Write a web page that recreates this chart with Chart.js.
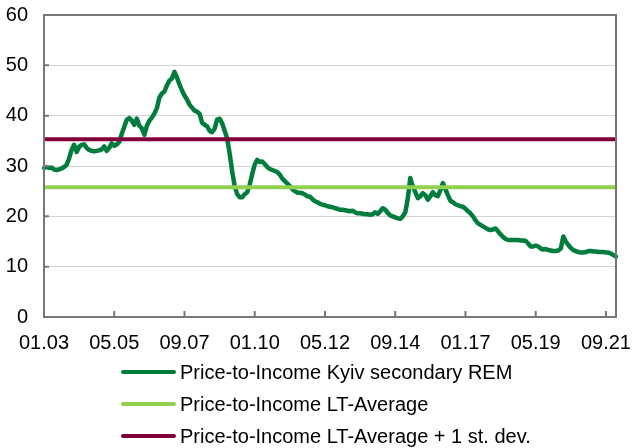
<!DOCTYPE html>
<html>
<head>
<meta charset="utf-8">
<script src="https://cdn.jsdelivr.net/npm/chart.js@4.4.1/dist/chart.umd.min.js"></script>
<style>
  html, body { margin: 0; padding: 0; background: #fff; }
  #wrap { position: relative; width: 632px; height: 448px; }
  #legenda { position: absolute; left: 121px; top: 356px; font: 20px "Liberation Sans", Arial, sans-serif; color: #000; }
  .item { height: 32px; display: flex; align-items: center; }
  .amostra { width: 55px; height: 4px; border-radius: 2px; margin-right: 4px; }
</style>
</head>
<body>
<div id="wrap">
  <canvas id="grafico" width="632" height="448"></canvas>
  <div id="legenda"></div>
</div>
<script>
// mensal, 01.03 ate 01.22
const anoInicio = 2003
const totalMeses = 229
const rotulosEixo = ["01.03", "05.05", "09.07", "01.10", "05.12", "09.14", "01.17", "05.19", "09.21"]

const priceToIncome = [
  29.6, 29.8, 29.6, 29.7, 29.3, 29.2, 29.3, 29.5, 29.8, 30.2, 31.5, 33.2,
  34.2, 32.8, 33.8, 34.2, 34.3, 33.6, 33.2, 33.0, 32.9, 33.0, 33.1, 33.3,
  33.9, 33.0, 33.6, 34.5, 34.0, 34.3, 34.8, 36.4, 37.8, 39.2, 39.5, 39.0,
  38.2, 39.4, 38.0, 37.5, 36.2, 38.0, 39.0, 39.6, 40.4, 41.5, 43.6, 44.4,
  44.8, 46.0, 47.0, 47.4, 48.7, 47.6, 46.2, 45.0, 44.0, 43.2, 42.2, 41.6,
  41.0, 40.8, 40.4, 38.6, 38.2, 37.9, 37.0, 36.7, 37.4, 39.2, 39.4, 38.5,
  37.0, 35.5, 32.5, 29.0, 26.0, 24.4, 23.8, 23.8, 24.4, 24.8, 26.3, 28.4,
  30.3, 31.2, 30.8, 30.9, 30.4, 29.8, 29.4, 29.2, 29.0, 28.8, 28.3, 27.5,
  27.0, 26.5, 26.0, 25.4, 25.0, 24.7, 24.7, 24.6, 24.3, 24.0, 23.9, 23.4,
  23.0, 22.8, 22.5, 22.3, 22.2, 22.0, 21.9, 21.8, 21.6, 21.5, 21.3, 21.3,
  21.2, 21.1, 21.0, 21.1, 20.8, 20.6, 20.6, 20.5, 20.4, 20.4, 20.3, 20.4,
  20.8, 20.5, 21.0, 21.6, 21.3, 20.7, 20.2, 20.0, 19.8, 19.6, 19.5, 20.0,
  20.8, 23.5, 27.6, 26.0, 24.8, 23.6, 24.0, 24.6, 24.2, 23.3, 24.0, 24.8,
  24.2, 24.0, 25.2, 26.6, 25.4, 24.2, 23.1, 22.8, 22.4, 22.2, 22.0, 21.9,
  21.5, 21.0, 20.6, 20.0, 19.2, 18.6, 18.3, 18.0, 17.7, 17.4, 17.3, 17.4,
  17.6, 17.0, 16.4, 15.9, 15.5, 15.3, 15.3, 15.3, 15.3, 15.3, 15.2, 15.2,
  15.1, 14.6, 14.0, 14.0, 14.2, 14.0, 13.6, 13.4, 13.5, 13.3, 13.2, 13.1,
  13.1, 13.2, 13.6, 16.0, 15.0, 14.3, 13.7, 13.3, 13.1, 12.9, 12.8, 12.8,
  12.9, 13.1, 13.1, 13.0, 13.0, 12.9, 12.9, 12.9, 12.8, 12.8, 12.6, 12.3,
  12.0
]
const mediaLT = 25.8
const mediaMaisDesvio = 35.3

// monta os rotulos mes.ano
const meses = []
for (let i = 0; i < totalMeses; i++) {
  const m = (i % 12) + 1
  const a = (anoInicio + Math.floor(i / 12)) % 100
  meses.push(String(m).padStart(2, "0") + "." + String(a).padStart(2, "0"))
}
const primeiro = meses[0]
const ultimo = meses[meses.length - 1]

const fonte = { family: "'Liberation Sans', Arial, sans-serif", size: 20 }

// moldura e tracinhos para dentro
const moldura = {
  id: "moldura",
  afterDatasetsDraw(chart) {
    const { ctx, chartArea: ca, scales } = chart
    ctx.save()
    ctx.strokeStyle = "#777"
    ctx.lineWidth = 2
    ctx.beginPath()
    for (const r of rotulosEixo) {
      const x = scales.x.getPixelForValue(meses.indexOf(r))
      ctx.moveTo(x, ca.bottom); ctx.lineTo(x, ca.bottom - 6)
    }
    for (const t of scales.y.ticks) {
      const y = scales.y.getPixelForValue(t.value)
      ctx.moveTo(ca.left, y); ctx.lineTo(ca.left + 5, y)
    }
    ctx.stroke()
    ctx.strokeRect(ca.left, ca.top, ca.right - ca.left, ca.bottom - ca.top)
    ctx.restore()
  }
}

const grafico = new Chart(document.getElementById("grafico"), {
  type: "line",
  data: {
    labels: meses,
    datasets: [
      {
        label: "Price-to-Income Kyiv secondary REM",
        data: priceToIncome,
        borderColor: "#007D3C",
        borderWidth: 4.5,
        pointRadius: 0,
        tension: 0,
        borderJoinStyle: "round",
        borderCapStyle: "round",
        order: 3
      },
      {
        label: "Price-to-Income LT-Average",
        data: [{ x: primeiro, y: mediaLT }, { x: ultimo, y: mediaLT }],
        borderColor: "#92D050",
        borderWidth: 4,
        pointRadius: 0,
        order: 2
      },
      {
        label: "Price-to-Income LT-Average + 1 st. dev.",
        data: [{ x: primeiro, y: mediaMaisDesvio }, { x: ultimo, y: mediaMaisDesvio }],
        borderColor: "#82003A",
        borderWidth: 4,
        pointRadius: 0,
        order: 1
      }
    ]
  },
  options: {
    responsive: false,
    animation: false,
    layout: { padding: { top: 15, right: 16, bottom: 79, left: 0 } },
    scales: {
      x: {
        type: "category",
        offset: false,
        afterFit: (s) => { s.paddingLeft = 0; s.paddingRight = 0 },
        grid: { display: false, drawTicks: false },
        border: { display: false },
        ticks: {
          autoSkip: false,
          maxRotation: 0,
          padding: 14,
          color: "#000",
          font: fonte,
          callback: function (v, i) {
            const r = meses[i]
            return rotulosEixo.includes(r) ? r : null
          }
        }
      },
      y: {
        min: 0,
        max: 60,
        afterFit: (s) => { s.width = 44; s.paddingTop = 0; s.paddingBottom = 0 },
        grid: { color: "#d4d4d4", lineWidth: 1, drawTicks: false },
        border: { display: false },
        ticks: { stepSize: 10, padding: 16, color: "#000", font: fonte }
      }
    },
    plugins: {
      legend: { display: false },
      tooltip: { enabled: false }
    }
  },
  plugins: [moldura]
})

// legenda em html, um item por linha
const legenda = document.getElementById("legenda")
for (const ds of grafico.data.datasets) {
  const item = document.createElement("div")
  item.className = "item"
  item.innerHTML = '<div class="amostra" style="background:' + ds.borderColor + '"></div><span>' + ds.label + "</span>"
  legenda.appendChild(item)
}
</script>
</body>
</html>
